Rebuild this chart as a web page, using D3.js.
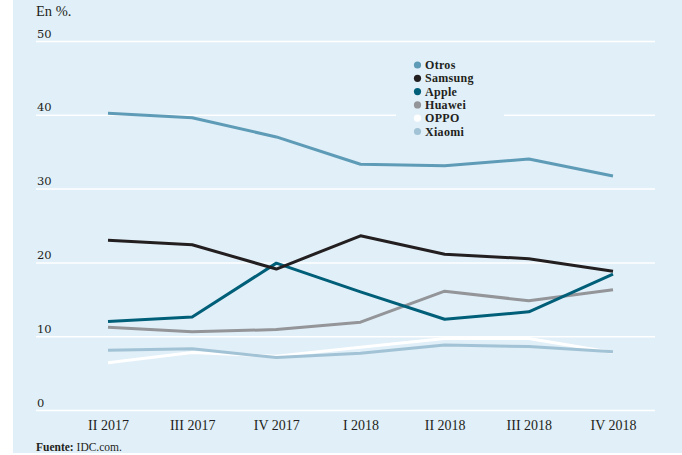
<!DOCTYPE html>
<html>
<head>
<meta charset="utf-8">
<script src="https://cdn.jsdelivr.net/npm/d3@7"></script>
<style>
  body { margin: 0; background: #ffffff; }
  svg text { font-family: "Liberation Serif", "DejaVu Serif", serif; fill: #231f20; }
</style>
</head>
<body>
<svg id="chart"></svg>
<script>
// Quarters on the x axis
const quarters = ["II 2017", "III 2017", "IV 2017", "I 2018", "II 2018", "III 2018", "IV 2018"];
// Market share per brand (%)
const otros   = [40.2, 39.6, 37.0, 33.3, 33.1, 34.0, 31.7];
const samsung = [23.0, 22.4, 19.1, 23.6, 21.1, 20.5, 18.8];
const apple   = [12.0, 12.6, 19.9, 16.0, 12.3, 13.3, 18.4];
const huawei  = [11.2, 10.6, 10.9, 11.9, 16.1, 14.8, 16.3];
const oppo    = [6.4, 7.8, 7.3, 8.5, 9.7, 9.7, 7.8];
const xiaomi  = [8.1, 8.3, 7.1, 7.7, 8.8, 8.6, 7.9];
const yTicks = [0, 10, 20, 30, 40, 50];

const width = 682;
const height = 455;

const series = [
  { name: "Otros", values: otros, color: "#5e9bb6" },
  { name: "Samsung", values: samsung, color: "#231f20" },
  { name: "Apple", values: apple, color: "#005f78" },
  { name: "Huawei", values: huawei, color: "#939598" },
  { name: "OPPO", values: oppo, color: "#ffffff" },
  { name: "Xiaomi", values: xiaomi, color: "#a2c3d5" }
];
// drawing order (last on top)
const drawOrder = ["Otros", "Huawei", "Apple", "Samsung", "OPPO", "Xiaomi"];

const svg = d3.select("#chart")
  .attr("width", width)
  .attr("height", height);

// light blue panel
svg.append("rect")
  .attr("x", 13).attr("y", 0)
  .attr("width", width - 13).attr("height", 453)
  .attr("fill", "#e1eff8");

const xScale = d3.scalePoint()
  .domain(quarters)
  .range([108, 613]);

const yScale = d3.scaleLinear()
  .domain([0, 50])
  .range([410, 41]);

// horizontal grid + y labels
const yAxis = d3.axisLeft(yScale)
  .tickValues(yTicks)
  .tickSize(-(655 - 36))
  .tickFormat(d => d);

const gy = svg.append("g")
  .attr("transform", "translate(36,0)")
  .call(yAxis);
gy.select(".domain").remove();
gy.selectAll(".tick line")
  .attr("stroke", "#ffffff")
  .attr("stroke-width", 1.5);
gy.selectAll(".tick text")
  .attr("x", 1)
  .attr("dy", -4)
  .attr("text-anchor", "start")
  .style("font-family", "'DejaVu Serif', serif")
  .style("font-size", "11.5px");

// x labels
const xAxis = d3.axisBottom(xScale).tickSize(0);
const gx = svg.append("g")
  .attr("transform", "translate(0,414)")
  .call(xAxis);
gx.select(".domain").remove();
gx.selectAll(".tick text")
  .attr("dy", "0.9em")
  .style("font-size", "14px");

// lines
const line = d3.line()
  .x((d, i) => xScale(quarters[i]))
  .y(d => yScale(d));

drawOrder.forEach(n => {
  const s = series.find(e => e.name === n);
  svg.append("path")
    .datum(s.values)
    .attr("fill", "none")
    .attr("stroke", s.color)
    .attr("stroke-width", 3)
    .attr("stroke-linejoin", "round")
    .attr("d", line);
});

// legend with background covering the grid
const legend = svg.append("g").attr("transform", "translate(396,58)");
legend.append("rect")
  .attr("width", 108).attr("height", 81)
  .attr("fill", "#e1eff8");
series.forEach((s, i) => {
  const g = legend.append("g").attr("transform", `translate(0,${7 + i * 13.3})`);
  g.append("circle")
    .attr("cx", 21.5).attr("cy", 0).attr("r", 3.6)
    .attr("fill", s.color);
  g.append("text")
    .attr("x", 29).attr("y", 4)
    .style("font-size", "12px")
    .style("font-weight", "bold")
    .style("letter-spacing", "0.3px")
    .text(s.name);
});

// subtitle
svg.append("text")
  .attr("x", 36).attr("y", 16)
  .style("font-size", "14.5px")
  .text("En %.");

// source
const src = svg.append("text")
  .attr("x", 36).attr("y", 451)
  .style("font-size", "11.5px");
src.append("tspan").style("font-weight", "bold").text("Fuente: ");
src.append("tspan").text("IDC.com.");
</script>
</body>
</html>
